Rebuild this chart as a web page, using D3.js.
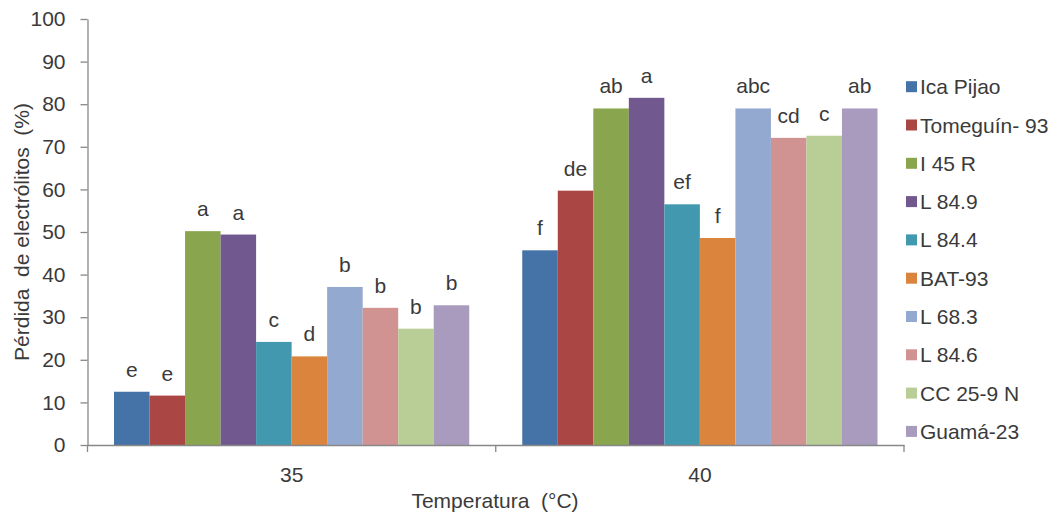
<!DOCTYPE html>
<html>
<head>
<meta charset="utf-8">
<script src="https://cdn.jsdelivr.net/npm/d3@7"></script>
<style>
  body { margin: 0; background: #fff; }
  svg text { font-family: "Liberation Sans", Arial, sans-serif; fill: #3a3a3a; white-space: pre; }
</style>
</head>
<body>
<svg id="chart" width="1061" height="515"></svg>
<script>
// temperatures (x categories)
const temperatures = ['35', '40'];

// cultivars, one bar each per temperature
const cultivars = ['Ica Pijao', 'Tomeguín- 93', 'I 45 R', 'L 84.9', 'L 84.4',
  'BAT-93', 'L 68.3', 'L 84.6', 'CC 25-9 N', 'Guamá-23'];

const colors = ['#4572A7', '#AA4643', '#89A54E', '#71588F', '#4198AF',
  '#DB843D', '#93A9CF', '#D19392', '#B9CD96', '#A99BBD'];

// electrolyte loss (%)
const values35 = [12.5, 11.6, 50.2, 49.4, 24.2, 20.8, 37.1, 32.2, 27.3, 32.8];
const values40 = [45.7, 59.7, 79.0, 81.5, 56.5, 48.6, 79.0, 72.1, 72.6, 79.0];

// significance letters
const letters35 = ['e', 'e', 'a', 'a', 'c', 'd', 'b', 'b', 'b', 'b'];
const letters40 = ['f', 'de', 'ab', 'a', 'ef', 'f', 'abc', 'cd', 'c', 'ab'];

const yTicks = [0, 10, 20, 30, 40, 50, 60, 70, 80, 90, 100];

const rows = [
  { temp: '35', values: values35, letters: letters35 },
  { temp: '40', values: values40, letters: letters40 }
];

const margin = { top: 19, left: 87.5 };
const plotRight = 904;
const plotBottom = 445;

const svg = d3.select('#chart');

const x = d3.scaleBand()
  .domain(temperatures)
  .range([margin.left, plotRight])
  .padding(0);

const gap = 26.5;
const x1 = d3.scaleBand()
  .domain(cultivars)
  .range([gap, x.bandwidth() - gap])
  .padding(0);

const y = d3.scaleLinear()
  .domain([0, 100])
  .range([plotBottom, margin.top]);

const color = d3.scaleOrdinal().domain(cultivars).range(colors);

// bars
const groups = svg.selectAll('.grp')
  .data(rows)
  .enter()
  .append('g')
  .attr('class', 'grp')
  .attr('transform', (d) => `translate(${x(d.temp)}, 0)`);

const barData = (d) => d.values.map((v, i) => ({ name: cultivars[i], value: v, letter: d.letters[i] }));

groups.selectAll('rect')
  .data(barData)
  .enter()
  .append('rect')
  .attr('x', (d) => x1(d.name))
  .attr('y', (d) => y(d.value))
  .attr('width', x1.bandwidth())
  .attr('height', (d) => y(0) - y(d.value))
  .attr('fill', (d) => color(d.name));

groups.selectAll('text.letter')
  .data(barData)
  .enter()
  .append('text')
  .attr('class', 'letter')
  .attr('x', (d) => x1(d.name) + x1.bandwidth() / 2)
  .attr('y', (d) => y(d.value) - 15)
  .attr('text-anchor', 'middle')
  .style('font-size', '21px')
  .text((d) => d.letter);

// y axis
const yAxis = svg.append('g')
  .attr('transform', `translate(${margin.left}, 0)`)
  .call(d3.axisLeft(y).tickValues(yTicks).tickSize(7).tickPadding(15).tickSizeOuter(0));
yAxis.selectAll('path, line').attr('stroke', '#888').attr('stroke-width', 1.3);
yAxis.selectAll('text').style('font-size', '21px').attr('fill', '#3a3a3a');

// x axis
const xAxis = svg.append('g')
  .attr('transform', `translate(0, ${plotBottom})`)
  .call(d3.axisBottom(x).tickSize(0).tickPadding(22).tickSizeOuter(0));
xAxis.select('path').attr('stroke', '#888').attr('stroke-width', 1.3);
xAxis.selectAll('text').style('font-size', '21px').attr('fill', '#3a3a3a');

// x tick marks sit between categories
svg.append('g')
  .selectAll('line')
  .data([margin.left, x('40'), plotRight])
  .enter()
  .append('line')
  .attr('x1', (d) => d).attr('x2', (d) => d)
  .attr('y1', plotBottom).attr('y2', plotBottom + 7)
  .attr('stroke', '#888')
  .attr('stroke-width', 1.3);

// axis titles
svg.append('text')
  .attr('x', 495)
  .attr('y', 508)
  .attr('text-anchor', 'middle')
  .style('font-size', '21px')
  .text('Temperatura  (°C)');

svg.append('text')
  .attr('transform', `translate(29, ${(margin.top + plotBottom) / 2}) rotate(-90)`)
  .attr('text-anchor', 'middle')
  .style('font-size', '21px')
  .text('Pérdida  de electrólitos  (%)');

// legend
const legend = svg.append('g')
  .selectAll('g')
  .data(cultivars)
  .enter()
  .append('g')
  .attr('transform', (d, i) => `translate(906, ${86.7 + 38.3 * i})`);

legend.append('rect')
  .attr('x', 0)
  .attr('y', -5.5)
  .attr('width', 11)
  .attr('height', 11)
  .attr('fill', (d) => color(d));

legend.append('text')
  .attr('x', 14)
  .attr('dy', '0.36em')
  .style('font-size', '21px')
  .text((d) => d);
</script>
</body>
</html>
